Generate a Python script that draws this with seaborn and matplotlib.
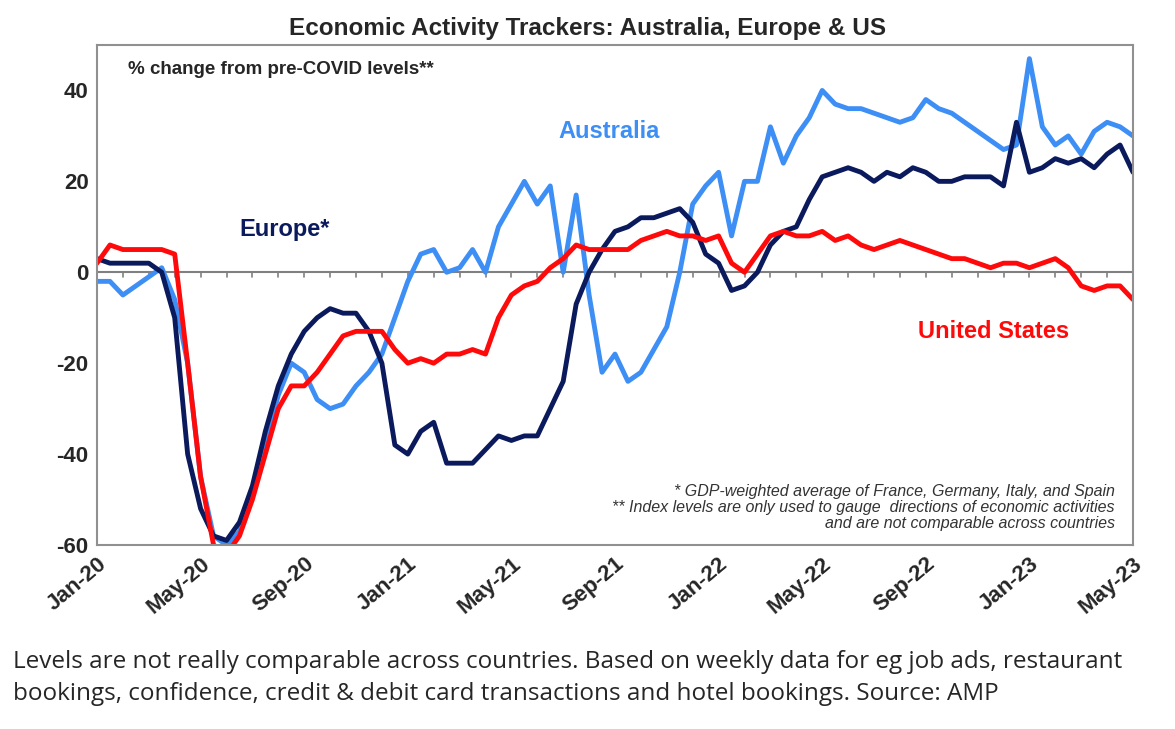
import numpy as np
import pandas as pd
import seaborn as sns
import matplotlib.pyplot as plt

# half-month steps from Jan-20 (0) to May-23 (40)
months = [i / 2 for i in range(81)]

australia = [-2, -2, -5, -3, -1, 1, -6, -20, -45, -58, -60, -57, -48, -38, -27, -20,
             -22, -28, -30, -29, -25, -22, -18, -10, -2, 4, 5, 0, 1, 5, 0, 10,
             15, 20, 15, 19, 0, 17, -5, -22, -18, -24, -22, -17, -12, 0, 15, 19,
             22, 8, 20, 20, 32, 24, 30, 34, 40, 37, 36, 36, 35, 34, 33, 34,
             38, 36, 35, 33, 31, 29, 27, 28, 47, 32, 28, 30, 26, 31, 33, 32, 30]

europe = [3, 2, 2, 2, 2, 0, -10, -40, -52, -58, -59, -55, -47, -35, -25, -18,
          -13, -10, -8, -9, -9, -13, -20, -38, -40, -35, -33, -42, -42, -42, -39, -36,
          -37, -36, -36, -30, -24, -7, 0, 5, 9, 10, 12, 12, 13, 14, 11, 4,
          2, -4, -3, 0, 6, 9, 10, 16, 21, 22, 23, 22, 20, 22, 21, 23,
          22, 20, 20, 21, 21, 21, 19, 33, 22, 23, 25, 24, 25, 23, 26, 28, 22]

us = [2, 6, 5, 5, 5, 5, 4, -20, -45, -60, -62, -58, -50, -40, -30, -25,
      -25, -22, -18, -14, -13, -13, -13, -17, -20, -19, -20, -18, -18, -17, -18, -10,
      -5, -3, -2, 1, 3, 6, 5, 5, 5, 5, 7, 8, 9, 8, 8, 7,
      8, 2, 0, 4, 8, 9, 8, 8, 9, 7, 8, 6, 5, 6, 7, 6,
      5, 4, 3, 3, 2, 1, 2, 2, 1, 2, 3, 1, -3, -4, -3, -3, -6]

tick_pos = [0, 4, 8, 12, 16, 20, 24, 28, 32, 36, 40]
tick_labels = ["Jan-20", "May-20", "Sep-20", "Jan-21", "May-21", "Sep-21",
               "Jan-22", "May-22", "Sep-22", "Jan-23", "May-23"]

df = pd.DataFrame({"m": months, "Australia": australia, "Europe": europe, "US": us})

sns.set_style("white")
plt.rcParams["font.family"] = ["Liberation Sans", "DejaVu Sans"]

fig = plt.figure(figsize=(11.75, 7.29), dpi=100)
ax = fig.add_axes([97 / 1175, 1 - 545 / 729, (1133 - 97) / 1175, (545 - 45) / 729])

sns.lineplot(data=df, x="m", y="Australia", ax=ax, color="#3d8ef5", lw=3.5)
sns.lineplot(data=df, x="m", y="Europe", ax=ax, color="#0a1a5c", lw=3.5)
sns.lineplot(data=df, x="m", y="US", ax=ax, color="#ff0a0a", lw=3.5)

ax.set_xlim(0, 40)
ax.set_ylim(-60, 50)
ax.axhline(0, color="#808080", lw=1.5, zorder=0)
for t in range(1, 40):
    ax.plot([t, t], [0, -1.0], color="#808080", lw=1.2, zorder=0)

ax.set_yticks([-60, -40, -20, 0, 20, 40])
ax.set_yticklabels(["-60", "-40", "-20", "0", "20", "40"], fontsize=16, fontweight="bold")
ax.set_xticks(tick_pos)
ax.set_xticklabels(tick_labels, rotation=40, ha="right", rotation_mode="anchor",
                   fontsize=16, fontweight="bold")
ax.tick_params(axis="both", length=0, pad=6)
ax.set_xlabel("")
ax.set_ylabel("")
for s in ax.spines.values():
    s.set_color("#909090")
    s.set_linewidth(1.5)

fig.text(0.5, 1 - 28 / 729, "Economic Activity Trackers: Australia, Europe & US",
         ha="center", va="center", fontsize=17.5, fontweight="bold")
ax.text(1.2, 44.5, "% change from pre-COVID levels**", fontsize=13.5, fontweight="bold", va="center")
ax.text(17.8, 31, "Australia", color="#3d8ef5", fontsize=17, fontweight="bold", va="center")
ax.text(5.5, 9.5, "Europe*", color="#0a1a5c", fontsize=17, fontweight="bold", va="center")
ax.text(31.7, -13, "United States", color="#ff0a0a", fontsize=17, fontweight="bold", va="center")
ax.text(39.3, -57, "* GDP-weighted average of France, Germany, Italy, and Spain\n"
        "** Index levels are only used to gauge  directions of economic activities\n"
        "and are not comparable across countries",
        ha="right", va="bottom", fontsize=11.5, style="italic", color="#333333",
        multialignment="right", linespacing=1.1)

fig.text(13 / 1175, 1 - 678 / 729,
         "Levels are not really comparable across countries. Based on weekly data for eg job ads, restaurant\n"
         "bookings, confidence, credit & debit card transactions and hotel bookings. Source: AMP",
         ha="left", va="center", fontsize=17.5, family=["Open Sans", "DejaVu Sans"], linespacing=1.4)

fig.savefig("out.png", dpi=100)
